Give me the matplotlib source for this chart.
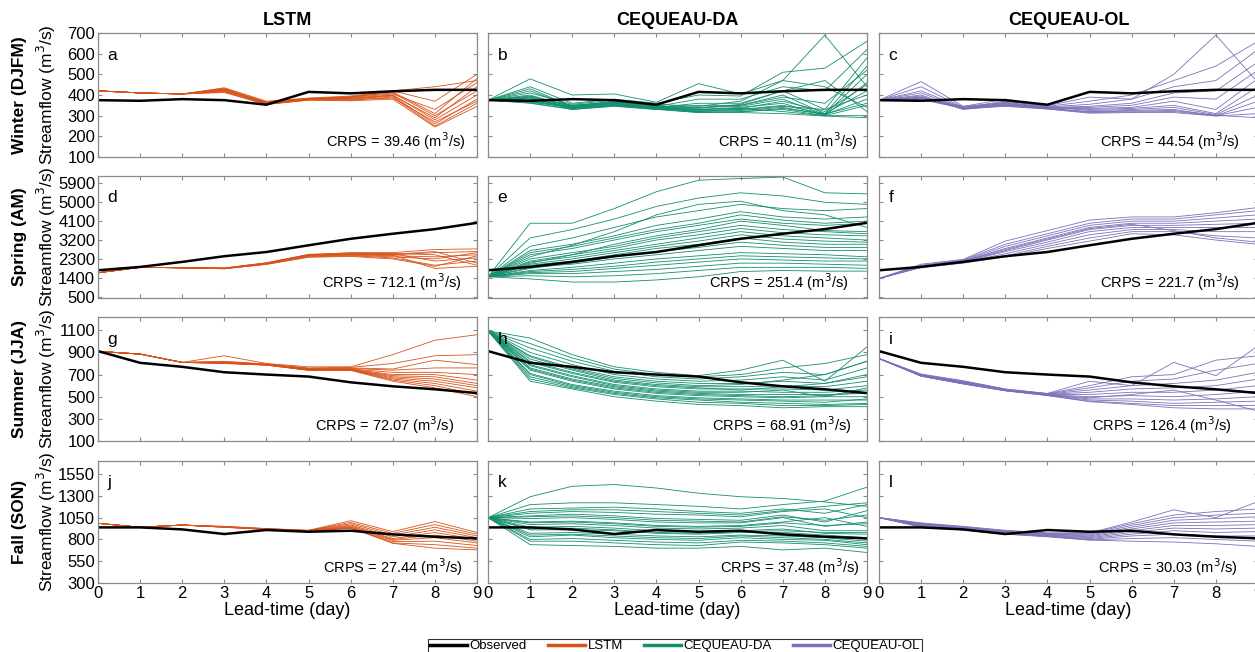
import matplotlib
matplotlib.use('Agg')
import matplotlib.pyplot as plt
from matplotlib.lines import Line2D

plt.rcParams['font.family'] = ['Liberation Sans', 'DejaVu Sans']

lead = [0, 1, 2, 3, 4, 5, 6, 7, 8, 9]

models = ['LSTM', 'CEQUEAU-DA', 'CEQUEAU-OL']
seasons = ['Winter (DJFM)', 'Spring (AM)', 'Summer (JJA)', 'Fall (SON)']
letters = ['a', 'b', 'c', 'd', 'e', 'f', 'g', 'h', 'i', 'j', 'k', 'l']
crps = ['39.46', '40.11', '44.54', '712.1', '251.4', '221.7',
        '72.07', '68.91', '126.4', '27.44', '37.48', '30.03']

# observed streamflow per season
obs_winter = [375, 372, 380, 375, 353, 415, 408, 418, 425, 425]
obs_spring = [1760, 1920, 2160, 2430, 2630, 2950, 3260, 3500, 3720, 4020]
obs_summer = [912, 806, 770, 721, 700, 682, 630, 594, 567, 533]
obs_fall = [938, 938, 915, 862, 908, 888, 900, 858, 831, 812]

# ensemble members (read approximately)
ens_a = [
    [420, 410, 405, 430, 362, 380, 392, 410, 300, 420],
    [420, 410, 405, 425, 358, 378, 385, 400, 280, 400],
    [420, 410, 405, 420, 365, 382, 380, 395, 260, 380],
    [420, 410, 405, 415, 355, 376, 375, 390, 250, 360],
    [420, 410, 405, 435, 370, 385, 395, 420, 370, 500],
    [420, 410, 405, 428, 360, 380, 388, 405, 330, 460],
    [420, 410, 405, 418, 356, 377, 378, 385, 270, 370],
    [420, 410, 405, 422, 362, 381, 383, 398, 290, 440],
    [420, 410, 405, 412, 354, 375, 372, 380, 245, 345],
    [420, 410, 405, 432, 366, 384, 390, 415, 310, 480],
    [420, 410, 405, 425, 360, 380, 390, 420, 440, 470],
]
ens_b = [
    [375, 478, 400, 405, 365, 455, 405, 470, 690, 440],
    [375, 440, 360, 380, 360, 400, 395, 510, 530, 660],
    [375, 420, 345, 370, 345, 380, 380, 440, 420, 620],
    [375, 400, 340, 360, 340, 360, 360, 420, 330, 580],
    [375, 390, 335, 355, 335, 350, 350, 400, 310, 540],
    [375, 385, 330, 350, 330, 340, 345, 380, 305, 500],
    [375, 380, 350, 365, 350, 330, 340, 360, 300, 460],
    [375, 370, 345, 360, 340, 325, 330, 350, 310, 420],
    [375, 365, 340, 350, 335, 320, 325, 340, 305, 380],
    [375, 360, 330, 345, 330, 315, 320, 330, 300, 350],
    [375, 410, 355, 375, 355, 345, 370, 470, 440, 340],
    [375, 395, 350, 368, 348, 335, 355, 420, 470, 320],
    [375, 430, 345, 362, 342, 330, 335, 320, 300, 300],
    [375, 385, 338, 358, 338, 318, 315, 310, 298, 290],
    [375, 392, 345, 365, 345, 340, 350, 390, 360, 520],
    [375, 375, 335, 355, 335, 330, 335, 370, 320, 450],
    [375, 368, 340, 352, 338, 322, 330, 345, 330, 400],
    [375, 362, 332, 348, 332, 316, 318, 335, 308, 360],
]
ens_c = [
    [375, 465, 345, 380, 348, 390, 380, 500, 690, 460],
    [375, 440, 340, 370, 345, 370, 400, 470, 540, 660],
    [375, 420, 338, 365, 342, 355, 380, 440, 470, 620],
    [375, 410, 335, 360, 340, 345, 360, 410, 420, 560],
    [375, 400, 332, 355, 338, 340, 350, 390, 380, 520],
    [375, 395, 330, 350, 336, 335, 340, 370, 330, 480],
    [375, 390, 340, 358, 340, 330, 335, 350, 310, 440],
    [375, 385, 345, 362, 342, 325, 330, 340, 305, 400],
    [375, 380, 338, 352, 335, 320, 325, 330, 300, 370],
    [375, 378, 335, 348, 333, 315, 318, 320, 300, 340],
    [375, 388, 333, 345, 332, 312, 315, 315, 298, 310],
    [375, 383, 336, 350, 334, 318, 322, 325, 302, 290],
]
ens_d = [
    [1640, 1900, 1880, 1860, 2100, 2500, 2600, 2600, 2750, 2780],
    [1640, 1900, 1880, 1850, 2080, 2460, 2550, 2500, 2600, 2650],
    [1640, 1900, 1880, 1840, 2060, 2430, 2500, 2450, 2400, 2500],
    [1640, 1900, 1880, 1870, 2120, 2520, 2580, 2550, 2200, 2350],
    [1640, 1900, 1880, 1830, 2050, 2400, 2450, 2350, 2000, 2200],
    [1640, 1900, 1880, 1850, 2090, 2470, 2520, 2480, 1850, 1950],
    [1640, 1900, 1880, 1860, 2110, 2490, 2560, 2560, 2500, 2000],
    [1640, 1900, 1880, 1845, 2070, 2440, 2480, 2400, 2300, 2600],
    [1640, 1900, 1880, 1855, 2100, 2480, 2540, 2520, 2650, 2100],
    [1640, 1900, 1880, 1835, 2040, 2380, 2420, 2300, 1950, 2450],
]
ens_e = [
    [1450, 4000, 4000, 4700, 5500, 6050, 6130, 6200, 5450, 5400],
    [1450, 3300, 3700, 4200, 4800, 5200, 5450, 5300, 5000, 4900],
    [1450, 2900, 3300, 3800, 4300, 4600, 4900, 4700, 4600, 4700],
    [1450, 2700, 3000, 3400, 3900, 4200, 4550, 4300, 4200, 4300],
    [1450, 2500, 2800, 3200, 3600, 3900, 4200, 4000, 3900, 4000],
    [1450, 2300, 2600, 2900, 3300, 3600, 3900, 3700, 3600, 3500],
    [1450, 2150, 2400, 2700, 3000, 3300, 3600, 3400, 3300, 3200],
    [1450, 2000, 2200, 2500, 2800, 3000, 3300, 3100, 3000, 3000],
    [1450, 1900, 2050, 2300, 2500, 2700, 2900, 2800, 2700, 2700],
    [1450, 1750, 1900, 2100, 2300, 2450, 2600, 2550, 2500, 2400],
    [1450, 1650, 1700, 1850, 2000, 2150, 2300, 2250, 2200, 2200],
    [1450, 1500, 1450, 1500, 1600, 1750, 1900, 1900, 1900, 1850],
    [1450, 1350, 1200, 1200, 1300, 1450, 1700, 1750, 1720, 1720],
    [1450, 2400, 2950, 3600, 4400, 4900, 5050, 4600, 4400, 3800],
    [1450, 2100, 2500, 3000, 3400, 3700, 4100, 3900, 3650, 3600],
    [1450, 2600, 2900, 3300, 3700, 4000, 4400, 4150, 4000, 4100],
    [1450, 2200, 2500, 2800, 3200, 3450, 3750, 3550, 3450, 3400],
    [1450, 1850, 2100, 2400, 2650, 2850, 3100, 2950, 2850, 2850],
    [1450, 1700, 1800, 1950, 2150, 2300, 2450, 2400, 2350, 2300],
    [1450, 2050, 2300, 2600, 2900, 3150, 3450, 3250, 3150, 3100],
    [1450, 1600, 1600, 1700, 1800, 1950, 2100, 2100, 2050, 2000],
]
ens_f = [
    [1370, 2050, 2280, 3150, 3650, 4150, 4300, 4300, 4500, 4750],
    [1370, 2000, 2250, 3000, 3500, 4000, 4200, 4200, 4400, 4600],
    [1370, 1980, 2220, 2900, 3400, 3900, 4100, 4100, 4250, 4400],
    [1370, 1960, 2200, 2800, 3300, 3800, 4000, 4000, 4100, 4200],
    [1370, 1950, 2180, 2700, 3200, 3700, 3900, 3900, 3950, 4000],
    [1370, 1930, 2160, 2650, 3100, 3600, 3800, 3800, 3800, 3800],
    [1370, 1920, 2140, 2550, 3000, 3450, 3700, 3700, 3600, 3600],
    [1370, 1900, 2120, 2450, 2900, 3300, 3600, 3600, 3400, 3300],
    [1370, 1890, 2100, 2400, 2800, 3150, 3500, 3450, 3200, 3000],
    [1370, 1940, 2200, 2750, 3250, 3750, 3950, 3650, 3300, 3100],
]
ens_g = [
    [910, 885, 810, 870, 800, 770, 770, 880, 1010, 1060],
    [910, 885, 810, 820, 795, 760, 765, 800, 870, 880],
    [910, 885, 810, 815, 795, 755, 760, 750, 830, 790],
    [910, 885, 810, 812, 793, 752, 755, 740, 760, 760],
    [910, 885, 810, 810, 792, 750, 750, 720, 720, 700],
    [910, 885, 810, 808, 790, 748, 748, 700, 700, 650],
    [910, 885, 810, 806, 790, 745, 745, 690, 680, 620],
    [910, 885, 810, 805, 788, 743, 743, 680, 660, 600],
    [910, 885, 810, 804, 788, 742, 742, 670, 640, 580],
    [910, 885, 810, 803, 786, 740, 740, 660, 620, 550],
    [910, 885, 810, 802, 786, 740, 740, 650, 600, 520],
    [910, 885, 810, 800, 785, 738, 738, 640, 580, 500],
]
ens_h = [
    [1095, 1030, 880, 770, 720, 690, 740, 830, 640, 950],
    [1095, 980, 850, 750, 700, 680, 700, 760, 800, 880],
    [1095, 940, 820, 730, 680, 660, 680, 720, 700, 820],
    [1095, 900, 790, 700, 660, 640, 650, 680, 650, 760],
    [1095, 870, 760, 680, 640, 620, 620, 640, 620, 700],
    [1095, 840, 740, 650, 610, 590, 590, 600, 590, 640],
    [1095, 810, 710, 630, 590, 570, 570, 570, 560, 600],
    [1095, 790, 690, 610, 570, 550, 550, 540, 540, 560],
    [1095, 760, 660, 590, 550, 530, 520, 520, 520, 530],
    [1095, 740, 640, 570, 530, 510, 500, 490, 500, 500],
    [1095, 710, 610, 550, 510, 490, 480, 470, 470, 470],
    [1095, 680, 590, 530, 490, 470, 450, 440, 430, 440],
    [1095, 640, 570, 500, 460, 430, 420, 400, 410, 410],
    [1095, 860, 750, 665, 625, 600, 610, 650, 700, 820],
    [1095, 820, 720, 640, 600, 580, 560, 590, 620, 680],
    [1095, 780, 680, 600, 560, 540, 540, 560, 500, 580],
    [1095, 750, 650, 580, 540, 520, 510, 500, 510, 540],
    [1095, 700, 600, 540, 500, 480, 470, 460, 450, 480],
    [1095, 660, 580, 520, 480, 450, 440, 420, 420, 430],
]
ens_i = [
    [845, 705, 645, 570, 530, 640, 600, 810, 690, 960],
    [845, 700, 640, 568, 528, 600, 680, 700, 830, 870],
    [845, 698, 636, 565, 526, 580, 640, 660, 740, 800],
    [845, 696, 632, 563, 524, 560, 600, 620, 650, 720],
    [845, 694, 628, 561, 522, 540, 570, 580, 600, 660],
    [845, 692, 625, 559, 520, 520, 540, 540, 560, 600],
    [845, 690, 622, 557, 518, 500, 510, 500, 520, 550],
    [845, 688, 620, 556, 516, 480, 480, 470, 480, 500],
    [845, 687, 618, 555, 514, 470, 460, 440, 450, 460],
    [845, 686, 616, 554, 512, 460, 440, 420, 420, 420],
    [845, 685, 615, 553, 510, 455, 430, 400, 390, 390],
    [845, 689, 619, 558, 517, 490, 520, 560, 470, 370],
]
ens_j = [
    [985, 940, 965, 950, 925, 905, 1015, 890, 1005, 880],
    [985, 940, 965, 948, 923, 903, 995, 870, 970, 860],
    [985, 940, 965, 946, 922, 902, 980, 850, 940, 840],
    [985, 940, 965, 945, 920, 900, 965, 830, 910, 820],
    [985, 940, 965, 944, 919, 899, 955, 810, 880, 800],
    [985, 940, 965, 943, 918, 898, 945, 800, 850, 780],
    [985, 940, 965, 942, 917, 897, 935, 790, 820, 760],
    [985, 940, 965, 941, 916, 896, 930, 775, 780, 730],
    [985, 940, 965, 940, 915, 895, 928, 760, 740, 700],
    [985, 940, 965, 939, 914, 894, 940, 755, 700, 680],
]
ens_k = [
    [1050, 1290, 1410, 1430, 1390, 1330, 1290, 1270, 1230, 1180],
    [1050, 1200, 1220, 1220, 1200, 1180, 1150, 1200, 1240, 1400],
    [1050, 1150, 1160, 1170, 1150, 1120, 1100, 1150, 1100, 1200],
    [1050, 1100, 1120, 1110, 1090, 1080, 1060, 1120, 1150, 1050],
    [1050, 1070, 1090, 1070, 1040, 1030, 1020, 1080, 1000, 1130],
    [1050, 1040, 1050, 1030, 1000, 990, 990, 1050, 950, 1000],
    [1050, 1000, 1010, 990, 960, 950, 960, 1000, 1050, 950],
    [1050, 970, 980, 960, 930, 920, 930, 960, 900, 900],
    [1050, 940, 950, 930, 900, 890, 900, 920, 870, 860],
    [1050, 910, 910, 900, 870, 860, 880, 880, 850, 820],
    [1050, 870, 880, 860, 840, 830, 850, 840, 820, 780],
    [1050, 830, 850, 820, 800, 790, 820, 800, 790, 740],
    [1050, 780, 780, 760, 740, 730, 770, 760, 740, 700],
    [1050, 740, 730, 720, 700, 700, 720, 680, 700, 650],
    [1050, 1120, 1140, 1140, 1120, 1100, 1080, 1130, 1180, 1220],
    [1050, 1060, 1070, 1050, 1020, 1010, 1000, 1060, 1020, 1080],
    [1050, 990, 1000, 980, 950, 940, 950, 990, 960, 980],
    [1050, 920, 930, 910, 880, 870, 890, 900, 880, 880],
    [1050, 850, 860, 840, 820, 810, 840, 820, 800, 760],
    [1050, 800, 810, 790, 770, 760, 790, 780, 760, 720],
]
ens_l = [
    [1050, 990, 950, 905, 875, 875, 1000, 1140, 1050, 1235],
    [1050, 985, 945, 900, 870, 870, 980, 1080, 1120, 1150],
    [1050, 980, 940, 895, 865, 860, 960, 1050, 1080, 1100],
    [1050, 975, 935, 890, 860, 850, 940, 1020, 1040, 1060],
    [1050, 970, 930, 885, 855, 840, 920, 990, 1000, 1010],
    [1050, 965, 925, 880, 850, 830, 900, 960, 960, 970],
    [1050, 960, 920, 875, 845, 820, 880, 930, 920, 930],
    [1050, 955, 915, 870, 840, 810, 860, 900, 880, 890],
    [1050, 950, 912, 865, 836, 800, 840, 860, 840, 840],
    [1050, 945, 910, 862, 833, 795, 810, 820, 800, 780],
    [1050, 940, 908, 860, 831, 792, 780, 770, 750, 720],
]

obs_all = [obs_winter, obs_spring, obs_summer, obs_fall]
ens_all = [[ens_a, ens_b, ens_c], [ens_d, ens_e, ens_f],
           [ens_g, ens_h, ens_i], [ens_j, ens_k, ens_l]]

yticks = [[100, 200, 300, 400, 500, 600, 700],
          [500, 1400, 2300, 3200, 4100, 5000, 5900],
          [100, 300, 500, 700, 900, 1100],
          [300, 550, 800, 1050, 1300, 1550]]
ylims = [(100, 700), (440, 6250), (100, 1220), (300, 1700)]

colors = ['#D95319', '#138F6F', '#7A72B8']
frame = '#8a8a8a'

# where the CRPS note ends in each panel (axes fraction)
crps_x = [0.97, 0.974, 0.95, 0.958, 0.95, 0.95,
          0.94, 0.96, 0.93, 0.963, 0.98, 0.947]

W, H = 1255, 652
fig = plt.figure(figsize=(W / 100, H / 100), dpi=100)

col_x = [98, 488, 879]
col_w = 379
row_y = [(33, 157), (176, 298), (317, 441), (461, 583)]

for r in range(4):
    for c in range(3):
        k = r * 3 + c
        y0, y1 = row_y[r]
        ax = fig.add_axes([col_x[c] / W, 1 - y1 / H, col_w / W, (y1 - y0) / H])
        for m in ens_all[r][c]:
            ax.plot(lead, m, color=colors[c], lw=0.6)
        ax.plot(lead, obs_all[r], color='black', lw=1.8)
        ax.set_xlim(0, 9)
        ax.set_ylim(*ylims[r])
        ax.set_xticks(lead)
        ax.set_yticks(yticks[r])
        ax.tick_params(direction='in', top=True, right=True, length=3,
                       color=frame, labelsize=12, pad=2)
        for s in ax.spines.values():
            s.set_color(frame)
            s.set_linewidth(0.9)
        if r < 3:
            ax.set_xticklabels([])
        else:
            ax.set_xlabel('Lead-time (day)', fontsize=13, labelpad=1)
        if c > 0:
            ax.set_yticklabels([])
        ax.text(0.025, 0.82, letters[k], transform=ax.transAxes,
                fontsize=12.5, va='center', ha='left')
        ax.text(crps_x[k], 0.13, 'CRPS = ' + crps[k] + ' (m$^3$/s)',
                transform=ax.transAxes, fontsize=10.5, ha='right', va='center')
        if r == 0:
            ax.set_title(models[c], fontsize=13, fontweight='bold', pad=6)

# row labels
for r in range(4):
    y0, y1 = row_y[r]
    yc = 1 - (y0 + y1) / 2 / H
    fig.text(20 / W, yc, seasons[r], rotation=90, fontsize=12.5,
             fontweight='bold', ha='center', va='center')
    fig.text(46 / W, yc, 'Streamflow (m$^3$/s)', rotation=90, fontsize=12.5,
             ha='center', va='center')

handles = [Line2D([], [], color='black', lw=2.5),
           Line2D([], [], color=colors[0], lw=2.5),
           Line2D([], [], color=colors[1], lw=2.5),
           Line2D([], [], color=colors[2], lw=2.5)]
leg = fig.legend(handles, ['Observed', 'LSTM', 'CEQUEAU-DA', 'CEQUEAU-OL'],
                 loc='upper center', bbox_to_anchor=(675 / W, 1 - 632 / H),
                 ncol=4, fontsize=9.5, frameon=True, fancybox=False,
                 handlelength=2.8, handletextpad=0.2, columnspacing=1.6,
                 borderpad=0.12, edgecolor='black')
leg.get_frame().set_linewidth(0.8)

fig.savefig('out.png', dpi=100)
